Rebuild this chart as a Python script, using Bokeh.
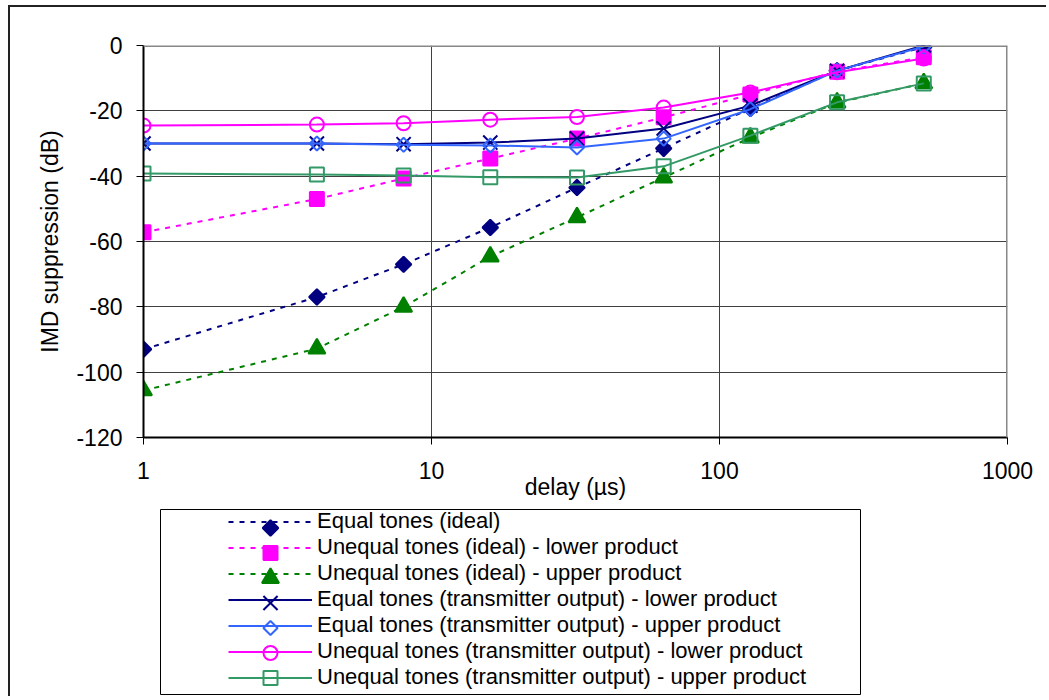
from math import pi
from bokeh.plotting import figure
from bokeh.layouts import column
from bokeh.models import Legend, LegendItem, Span, FixedTicker, BasicTickFormatter, BoxAnnotation
from bokeh.embed import file_html
from bokeh.resources import INLINE

# ---- data ----
delay = [1, 4, 8, 16, 32, 64, 128, 256, 512]
eq_ideal = [-93, -77, -67, -55.7, -43.5, -31.5, -19.3, -7.7, -0.5]
uneq_ideal_lower = [-57.2, -47, -40.7, -34.6, -28.5, -22, -15, -8, -3.6]
uneq_ideal_upper = [-105.6, -92.8, -80, -64.6, -52.6, -40.4, -28.2, -17.5, -11.6]
eq_tx_lower = [-30, -30, -30.2, -29.7, -28.5, -25.4, -18.4, -7.7, 0]
eq_tx_upper = [-30, -30, -30.4, -30.6, -31.2, -28.5, -19.5, -7.7, -0.3]
uneq_tx_lower = [-24.5, -24.2, -23.8, -22.7, -21.9, -19, -14.4, -8.2, -4]
uneq_tx_upper = [-39.2, -39.5, -39.8, -40.3, -40.4, -37, -27.6, -17.4, -11.6]

series_labels = [
    "Equal tones (ideal)",
    "Unequal tones (ideal) - lower product",
    "Unequal tones (ideal) - upper product",
    "Equal tones (transmitter output) - lower product",
    "Equal tones (transmitter output) - upper product",
    "Unequal tones (transmitter output) - lower product",
    "Unequal tones (transmitter output) - upper product",
]
series_values = [eq_ideal, uneq_ideal_lower, uneq_ideal_upper,
                 eq_tx_lower, eq_tx_upper, uneq_tx_lower, uneq_tx_upper]
x_ticks = [1, 10, 100, 1000]
y_ticks = [-120, -100, -80, -60, -40, -20, 0]

# ---- styles ----
NAVY = "#000080"
MAG = "#FF00FF"
GREEN = "#008000"
BLUE = "#3366FF"
TEAL = "#339966"
styles = [
    dict(color=NAVY, dash="5 6", marker="square", angle=pi / 4, size=11, fill=NAVY),
    dict(color=MAG, dash="5 6", marker="square", angle=0, size=14, fill=MAG),
    dict(color=GREEN, dash="5 6", marker="triangle", angle=0, size=17, fill=GREEN),
    dict(color=NAVY, dash="solid", marker="x", angle=0, size=20, fill=None),
    dict(color=BLUE, dash="solid", marker="square", angle=pi / 4, size=10, fill=None),
    dict(color=MAG, dash="solid", marker="circle", angle=0, size=14, fill=None),
    dict(color=TEAL, dash="solid", marker="square", angle=0, size=14, fill=None),
]

FONT = "Liberation Sans"
W = 1036
ORG_X, ORG_Y = 10, 7          # page position of the canvases
FL, FR, FT, FB = 143, 1007, 45, 437   # main frame edges on the page
H1, H2 = 500, 189

p = figure(width=W, height=H1, x_axis_type="log", x_range=(1, 1000), y_range=(-120, 0),
           output_backend="svg", toolbar_location=None,
           min_border_left=FL - ORG_X, min_border_right=ORG_X + W - FR,
           min_border_top=FT - ORG_Y, min_border_bottom=ORG_Y + H1 - FB,
           background_fill_color="white", border_fill_color="white", outline_line_color=None)

p.xaxis.ticker = FixedTicker(ticks=x_ticks)
p.xaxis.formatter = BasicTickFormatter()
p.yaxis.ticker = FixedTicker(ticks=y_ticks)
p.yaxis.major_label_overrides = {v: str(v) for v in y_ticks}
p.xgrid.ticker = FixedTicker(ticks=x_ticks)
p.ygrid.ticker = FixedTicker(ticks=y_ticks)
for g in (p.xgrid, p.ygrid):
    g.grid_line_color = "#404040"
    g.grid_line_width = 1

for ax in (p.xaxis, p.yaxis):
    ax.axis_line_color = "black"
    ax.axis_line_width = 2
    ax.major_tick_line_color = "black"
    ax.major_tick_in = 0
    ax.major_tick_out = 7
    ax.minor_tick_line_color = None
    ax.major_label_text_font = FONT
    ax.major_label_text_font_size = "23px"
    ax.major_label_text_color = "black"
    ax.axis_label_text_font = FONT
    ax.axis_label_text_font_size = "23px"
    ax.axis_label_text_font_style = "normal"
    ax.axis_label_text_color = "black"

p.xaxis.axis_label = "delay (µs)"
p.yaxis.axis_label = "IMD suppression (dB)"
p.xaxis.major_label_standoff = 17
p.xaxis.axis_label_standoff = -8
p.yaxis.major_label_standoff = 14
p.yaxis.axis_label_standoff = 10

p.add_layout(Span(location=0, dimension="width", line_color="#888888", line_width=3))
p.add_layout(Span(location=1000, dimension="height", line_color="#888888", line_width=3))

# legend figure: frame aligned with main frame horizontally, page pixels as coordinates
LT = ORG_Y + H1               # page y of legend canvas top
lf = figure(width=W, height=H2, x_range=(FL, FR), y_range=(LT + H2, LT),
            output_backend="svg", toolbar_location=None,
            x_axis_location=None, y_axis_location=None,
            min_border_left=FL - ORG_X, min_border_right=ORG_X + W - FR,
            min_border_top=0, min_border_bottom=0,
            background_fill_color="white", border_fill_color="white",
            outline_line_color=None)
lf.grid.visible = False
lf.add_layout(BoxAnnotation(left=160, right=860, top=509, bottom=694,
                            fill_alpha=0, line_color="black", line_width=1, line_alpha=1))

# legend layout
LEG_X0, GLYPH_W, ROW_H = 228, 84, 25
LEG_BOTTOM = 690
n = len(series_labels)
LEG_TOP = LEG_BOTTOM - ROW_H * n
MARK_X = LEG_X0 + GLYPH_W / 2

items = []
for i, (label, vals, st) in enumerate(zip(series_labels, series_values, styles)):
    p.line(delay, vals, line_color=st["color"], line_width=2, line_dash=st["dash"])
    p.scatter(delay, vals, marker=st["marker"], size=st["size"], angle=st["angle"],
              line_color=st["color"], line_width=2,
              fill_color=st["fill"] if st["fill"] else None)
    # off-frame look-alike line used only for the legend swatch
    lr = lf.line([-5000, -4000], [0, 0], line_color=st["color"], line_width=2,
                 line_dash=st["dash"])
    items.append(LegendItem(label=label, renderers=[lr]))
    # legend key marker, centred on the swatch
    lf.scatter([MARK_X], [LEG_TOP + ROW_H * (i + 0.5)], marker=st["marker"], size=st["size"],
               angle=st["angle"], line_color=st["color"], line_width=2,
               fill_color=st["fill"] if st["fill"] else "white")

leg = Legend(items=items, location=(LEG_X0 - FL, LT + H2 - LEG_BOTTOM), padding=0, margin=0,
             spacing=0, glyph_width=GLYPH_W, glyph_height=ROW_H, label_height=ROW_H,
             label_standoff=5, label_text_font=FONT, label_text_font_size="22px",
             label_text_color="black", border_line_color=None, background_fill_alpha=0)
lf.add_layout(leg)

layout = column(p, lf, spacing=0,
                styles={"margin-left": "8px", "margin-top": "5px",
                        "border-top": "2px solid #222222", "border-left": "2px solid #222222"})

open("out.html", "w").write(file_html(layout, INLINE))
